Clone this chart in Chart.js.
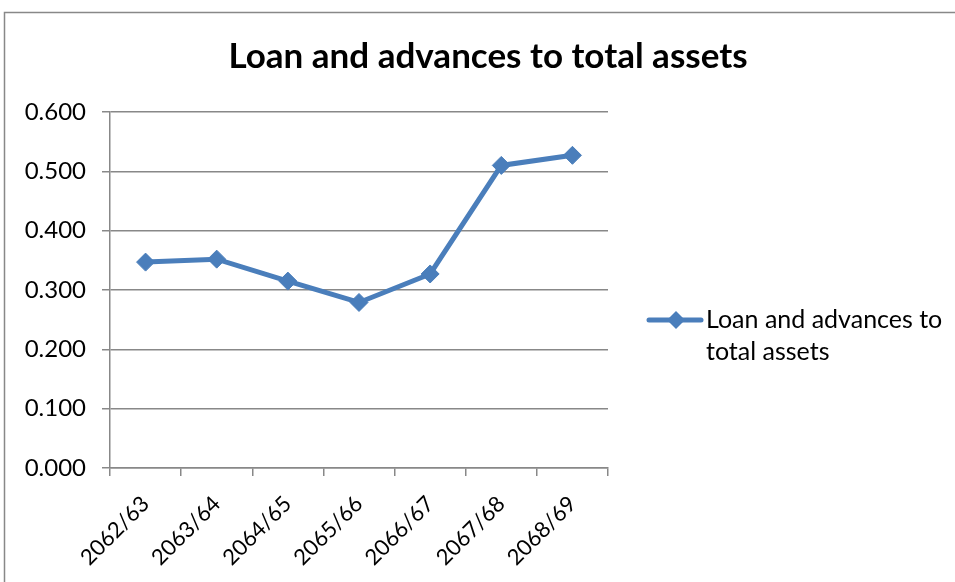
<!DOCTYPE html>
<html>
<head>
<meta charset="utf-8">
<script src="https://cdn.jsdelivr.net/npm/chart.js@4/dist/chart.umd.min.js"></script>
<style>
html,body{margin:0;padding:0;background:#fff;}
#wrap{position:absolute;left:0;top:0;width:955px;height:582px;}
</style>
</head>
<body>
<div id="wrap"><canvas id="c" width="955" height="582"></canvas></div>
<script>
const chartTitle = "Loan and advances to total assets";
const categories = ["2062/63","2063/64","2064/65","2065/66","2066/67","2067/68","2068/69"];
const seriesName = "Loan and advances to total assets";
const seriesValues = [0.347, 0.352, 0.315, 0.279, 0.327, 0.510, 0.527];
const legendLines = ["Loan and advances to", "total assets"];
const yMin = 0, yMax = 0.6, yStep = 0.1;

const FONT = "Lato, 'Open Sans', sans-serif";
const BLUE = "#4a7ebb";
const GRID = "#888888";

const framePlugin = {
  id: 'frame',
  beforeDraw(chart) {
    const ctx = chart.ctx;
    ctx.save();
    ctx.fillStyle = '#fff';
    ctx.fillRect(0, 0, chart.width, chart.height);
    ctx.strokeStyle = GRID;
    ctx.lineWidth = 1.5;
    ctx.beginPath();
    ctx.moveTo(4.5, chart.height + 2);
    ctx.lineTo(4.5, 12.5);
    ctx.lineTo(chart.width + 2, 12.5);
    ctx.stroke();
    ctx.restore();
  },
  afterDraw(chart) {
    const ctx = chart.ctx;
    ctx.save();
    ctx.fillStyle = '#000';
    ctx.font = "bold 35px " + FONT;
    ctx.textAlign = 'center';
    ctx.textBaseline = 'middle';
    ctx.fillText(chartTitle, 488, 57);
    ctx.restore();
  }
};

const legendPlugin = {
  id: 'sideLegend',
  afterDraw(chart) {
    const ctx = chart.ctx;
    const ds = chart.data.datasets[0];
    const y0 = 320;
    ctx.save();
    ctx.strokeStyle = ds.borderColor;
    ctx.lineWidth = 5;
    ctx.lineCap = 'round';
    ctx.beginPath();
    ctx.moveTo(649, y0);
    ctx.lineTo(701, y0);
    ctx.stroke();
    ctx.fillStyle = ds.pointBackgroundColor;
    ctx.beginPath();
    ctx.moveTo(676, y0 - 9);
    ctx.lineTo(685, y0);
    ctx.lineTo(676, y0 + 9);
    ctx.lineTo(667, y0);
    ctx.closePath();
    ctx.fill();
    ctx.fillStyle = '#000';
    ctx.font = "25px " + FONT;
    ctx.textBaseline = 'middle';
    ctx.textAlign = 'left';
    legendLines.forEach((t, i) => ctx.fillText(t, 706, y0 + i * 32));
    ctx.restore();
  }
};

new Chart(document.getElementById('c'), {
  type: 'line',
  data: {
    labels: categories,
    datasets: [{
      label: seriesName,
      data: seriesValues,
      borderColor: BLUE,
      backgroundColor: BLUE,
      pointBackgroundColor: BLUE,
      pointBorderColor: BLUE,
      borderWidth: 5,
      pointStyle: 'rectRot',
      pointRadius: 9,
      pointBorderWidth: 1,
      tension: 0,
      fill: false
    }]
  },
  options: {
    responsive: false,
    animation: false,
    devicePixelRatio: 1,
    layout: { padding: { left: 0, right: 347, top: 112, bottom: 0 } },
    plugins: {
      legend: { display: false },
      tooltip: { enabled: false },
      title: { display: false }
    },
    scales: {
      x: {
        type: 'category',
        offset: true,
        afterFit(s) { s.height = 114; },
        grid: {
          offset: true,
          drawOnChartArea: false,
          drawTicks: true,
          tickLength: 8,
          color: GRID,
          lineWidth: 1.5
        },
        border: { color: GRID, width: 1.5 },
        ticks: {
          color: '#000',
          font: { family: FONT, size: 22 },
          minRotation: 45,
          maxRotation: 45,
          padding: 15,
          autoSkip: false
        }
      },
      y: {
        min: yMin,
        max: yMax,
        afterFit(s) { s.width = 110; },
        grid: {
          color: GRID,
          lineWidth: 1.5,
          drawTicks: true,
          tickLength: 8
        },
        border: { color: GRID, width: 1.5 },
        ticks: {
          stepSize: yStep,
          color: '#000',
          font: { family: FONT, size: 24 },
          padding: 16,
          callback: v => Number(v).toFixed(3)
        }
      }
    }
  },
  plugins: [framePlugin, legendPlugin]
});
</script>
</body>
</html>
